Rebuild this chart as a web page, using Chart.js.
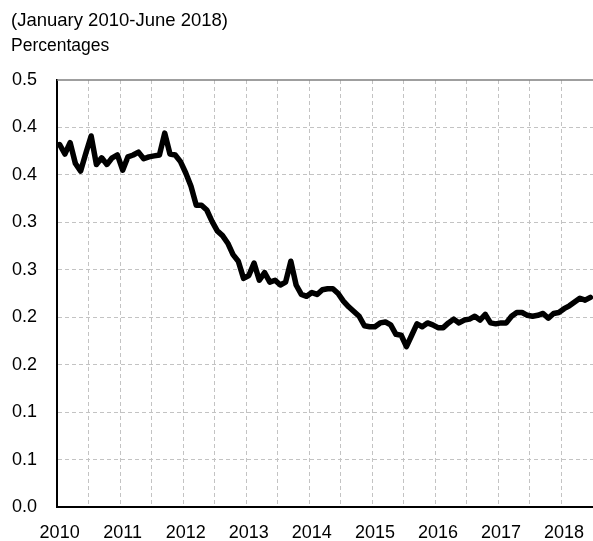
<!DOCTYPE html>
<html>
<head>
<meta charset="utf-8">
<script src="https://cdn.jsdelivr.net/npm/chart.js@4.4.0/dist/chart.umd.min.js"></script>
<style>
    html, body { margin: 0; padding: 0; background: #fff; }
</style>
</head>
<body>
<canvas id="myChart" width="593" height="541"></canvas>
<script>

// x axis: monthly, January 2010 - June 2018
var years = ['2010', '2011', '2012', '2013', '2014', '2015', '2016', '2017', '2018'];
var monthNames = ['Jan', 'Feb', 'Mar', 'Apr', 'May', 'Jun', 'Jul', 'Aug', 'Sep', 'Oct', 'Nov', 'Dec'];
var lastMonth = 'Jun 2018';

// y axis tick labels as printed (one decimal)
var yTickLabels = ['0.0', '0.1', '0.1', '0.2', '0.2', '0.3', '0.3', '0.4', '0.4', '0.5'];

// percentages
var rate = [
    0.382, 0.372, 0.384, 0.362, 0.354, 0.373, 0.391, 0.361, 0.368, 0.361, 0.368, 0.371,
    0.355, 0.369, 0.371, 0.374, 0.367, 0.369, 0.370, 0.371, 0.394, 0.372, 0.371, 0.364,
    0.352, 0.338, 0.318, 0.318, 0.313, 0.301, 0.291, 0.286, 0.278, 0.266, 0.259, 0.241,
    0.244, 0.257, 0.239, 0.247, 0.237, 0.239, 0.234, 0.237, 0.259, 0.234, 0.224, 0.222,
    0.226, 0.224, 0.229, 0.230, 0.230, 0.225, 0.217, 0.211, 0.206, 0.201, 0.191, 0.190,
    0.190, 0.194, 0.195, 0.192, 0.182, 0.181, 0.169, 0.181, 0.193, 0.190, 0.194, 0.192,
    0.189, 0.189, 0.194, 0.198, 0.194, 0.197, 0.198, 0.201, 0.197, 0.203, 0.194, 0.193,
    0.194, 0.194, 0.201, 0.205, 0.205, 0.202, 0.201, 0.202, 0.204, 0.199, 0.204, 0.205,
    0.209, 0.212, 0.216, 0.220, 0.218, 0.221
];

var months = [];
years.forEach(function (y) {
    monthNames.forEach(function (m) {
        if (months.length && months[months.length - 1] === lastMonth) return;
        months.push(m + ' ' + y);
    });
});

var tickFont = { family: '"Liberation Sans", Arial, sans-serif', size: 18 };

// header text and the top frame line
var headerPlugin = {
    id: 'header',
    afterDraw: function (chart) {
        var c = chart.ctx;
        var area = chart.chartArea;
        c.save();
        c.fillStyle = '#000';
        c.textBaseline = 'alphabetic';
        c.font = '18.5px "Liberation Sans", Arial, sans-serif';
        c.fillText('(January 2010-June 2018)', 11, 26);
        c.font = '17.5px "Liberation Sans", Arial, sans-serif';
        c.fillText('Percentages', 11, 51);
        c.strokeStyle = '#7f7f7f';
        c.lineWidth = 1.5;
        c.beginPath();
        c.moveTo(area.left, area.top);
        c.lineTo(area.right, area.top);
        c.stroke();
        c.restore();
    }
};

function onSight() {
    var ctx = document.getElementById('myChart').getContext('2d');

    var myChart = new Chart(ctx, {
        type: 'line',
        data: {
            labels: months,
            datasets: [{
                data: rate,
                borderColor: '#000',
                borderWidth: 5.5,
                borderJoinStyle: 'round',
                borderCapStyle: 'round',
                pointRadius: 0,
                tension: 0,
                fill: false
            }]
        },
        options: {
            responsive: false,
            animation: false,
            layout: {
                padding: { top: 80, right: 0, left: 0, bottom: 0 }
            },
            plugins: {
                legend: { display: false },
                tooltip: { enabled: false }
            },
            scales: {
                x: {
                    type: 'category',
                    offset: true,
                    grid: {
                        offset: true,
                        drawTicks: false,
                        lineWidth: 1,
                        color: function (context) {
                            return context.index > 0 && context.index % 6 === 0 ? '#c3c3c3' : 'rgba(0,0,0,0)';
                        }
                    },
                    border: { color: '#000', width: 2, dash: [4, 3] },
                    ticks: {
                        autoSkip: false,
                        maxRotation: 0,
                        minRotation: 0,
                        padding: 15,
                        color: '#000',
                        font: tickFont,
                        callback: function (value, index) {
                            return index % 12 === 0 ? years[index / 12] : '';
                        }
                    },
                    afterFit: function (scale) {
                        scale.height = 34;
                        scale.paddingRight = 0;
                        scale.paddingLeft = 0;
                    }
                },
                y: {
                    min: 0,
                    max: 0.45,
                    grid: {
                        drawTicks: false,
                        lineWidth: 1,
                        color: function (context) {
                            return context.index > 0 && context.index < 9 ? '#c3c3c3' : 'rgba(0,0,0,0)';
                        }
                    },
                    border: { color: '#000', width: 2, dash: [4, 3] },
                    ticks: {
                        stepSize: 0.05,
                        padding: 20,
                        color: '#000',
                        font: tickFont,
                        callback: function (value, index) {
                            return yTickLabels[index];
                        }
                    },
                    afterFit: function (scale) { scale.width = 57; }
                }
            }
        },
        plugins: [headerPlugin]
    });
}

document.addEventListener('DOMContentLoaded', onSight);
</script>
</body>
</html>
